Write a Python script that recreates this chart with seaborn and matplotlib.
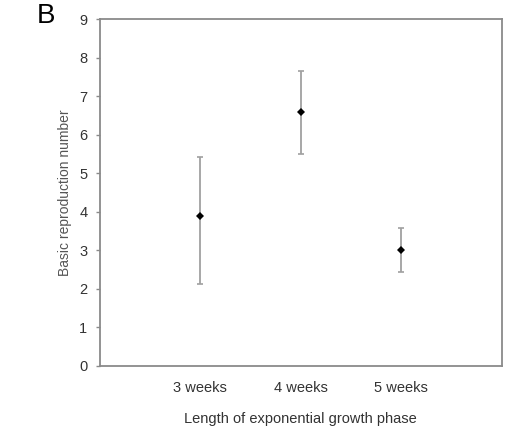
import matplotlib
matplotlib.use("Agg")
import matplotlib.pyplot as plt
import seaborn as sns
import numpy as np

# data
categories = ["3 weeks", "4 weeks", "5 weeks"]
r0_values = [3.89, 6.60, 3.01]
ci_lower = [2.12, 5.49, 2.44]
ci_upper = [5.43, 7.66, 3.57]

sns.set_style("white")
plt.rcParams["font.family"] = ["Liberation Sans", "DejaVu Sans"]

fig = plt.figure(figsize=(5.12, 4.34), dpi=100)
ax = fig.add_axes([0.195, 0.157, 0.785, 0.799])

pos = np.arange(len(categories))
vals = np.array(r0_values)
yerr = [vals - np.array(ci_lower), np.array(ci_upper) - vals]
ax.errorbar(pos, vals, yerr=yerr, fmt="none", ecolor="#a0a0a0", elinewidth=1.3,
            capsize=2.5, capthick=1.2, zorder=2)
sns.pointplot(x=categories, y=r0_values, linestyle="none", marker="D", color="black",
              markersize=4, markeredgewidth=0, errorbar=None, ax=ax, zorder=3)

ax.set_xlim(-1, 3)
ax.set_ylim(0, 9)
ax.set_yticks(range(0, 10))
for sp in ax.spines.values():
    sp.set_color("#8a8a8a")
    sp.set_linewidth(1.3)
ax.tick_params(axis="y", left=True, length=3, width=1, color="#8a8a8a",
               labelsize=10.5, labelcolor="#333333", pad=6)
ax.tick_params(axis="x", bottom=False, labelsize=10.5, labelcolor="#333333", pad=7.5)
ax.set_xlabel("Length of exponential growth phase", fontsize=10.5, color="#333333", labelpad=12)
ax.set_ylabel("Basic reproduction number", fontsize=10, color="#555555", labelpad=5)

fig.text(0.072, 0.964, "B", fontsize=20, color="black", ha="left", va="center")

fig.savefig("out.png", dpi=100)
